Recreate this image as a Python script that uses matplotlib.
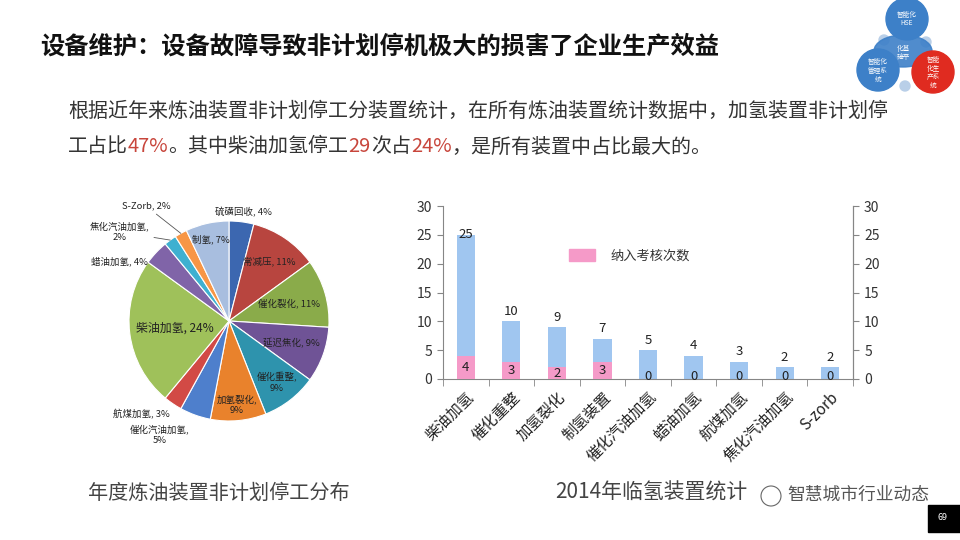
"""Slide: equipment shutdown statistics (pie + bar) recreated with matplotlib."""

import numpy as np
import matplotlib

matplotlib.use("Agg")
import matplotlib.pyplot as plt
from matplotlib.patches import Circle, Ellipse, Rectangle, Patch

plt.rcParams["font.family"] = ["Noto Sans CJK SC", "DejaVu Sans"]

# pie: share of unplanned shutdowns per unit (clockwise from 12 o'clock)
PIE_LABELS = ["硫磺回收", "常减压", "催化裂化", "延迟焦化", "催化重整", "加氢裂化",
              "催化汽油加氢", "航煤加氢", "柴油加氢", "蜡油加氢", "焦化汽油加氢",
              "S-Zorb", "制氢"]
PIE_SHARES = [4, 11, 11, 9, 9, 9, 5, 3, 24, 4, 2, 2, 7]
PIE_COLORS = ["#3c67b0", "#b8453f", "#8aab4a", "#6f5396", "#2e93ad", "#e9822c",
              "#4e7fcc", "#d24a45", "#9fc15a", "#8064a8", "#3fb0d0", "#f79646",
              "#a8bedf"]

# bar: 2014 hydro units, total stops and stops counted in assessment
BAR_UNITS = ["柴油加氢", "催化重整", "加氢裂化", "制氢装置", "催化汽油加氢",
             "蜡油加氢", "航煤加氢", "焦化汽油加氢", "S-zorb"]
BAR_STOPS = [25, 10, 9, 7, 5, 4, 3, 2, 2]
BAR_ASSESSED = [4, 3, 2, 3, 0, 0, 0, 0, 0]
BAR_TICKS = [0, 5, 10, 15, 20, 25, 30]

TITLE = "设备维护：设备故障导致非计划停机极大的损害了企业生产效益"
BODY_1 = "根据近年来炼油装置非计划停工分装置统计，在所有炼油装置统计数据中，加氢装置非计划停"
BODY_2 = [("工占比", False), ("47%", True), ("。其中柴油加氢停工", False), ("29", True),
          ("次占", False), ("24%", True), ("，是所有装置中占比最大的。", False)]

W, H = 960, 540
RED = "#c8463c"
TEXT = "#333333"

# label placement: ("in", radius, size) or ("out", x, y, lead line)
PIE_LABEL_POS = [("out", 0.14, 1.09, False), ("in", 0.72, 6.8), ("in", 0.63, 6.8),
                 ("in", 0.66, 6.8), ("in", 0.78, 6.8), ("in", 0.84, 6.8),
                 ("out", -0.69, -1.14, False), ("out", -0.88, -0.93, False),
                 ("in", 0.55, 8.6), ("out", -1.10, 0.60, False),
                 ("out", -1.09, 0.89, True), ("out", -0.83, 1.15, True),
                 ("in", 0.84, 6.8)]
PIE_TWO_LINE = {"催化重整", "加氢裂化", "催化汽油加氢", "焦化汽油加氢"}


def px(x, y, w=0, h=0):
    """pixel box (top-left origin) -> figure fraction rect"""
    return [x / W, 1 - (y + h) / H, w / W, h / H]


def draw_pie(fig):
    ax = fig.add_axes(px(129, 221, 200, 200))
    wedges, _ = ax.pie(PIE_SHARES, colors=PIE_COLORS, startangle=90, counterclock=False,
                       wedgeprops=dict(edgecolor="white", linewidth=0.8))
    ax.set_xlim(-1, 1)
    ax.set_ylim(-1, 1)
    for w, name, share, pos in zip(wedges, PIE_LABELS, PIE_SHARES, PIE_LABEL_POS):
        sep = ",\n" if name in PIE_TWO_LINE else ", "
        label = f"{name}{sep}{share}%"
        ang = np.deg2rad((w.theta1 + w.theta2) / 2)
        if pos[0] == "in":
            _, r, size = pos
            ax.text(r * np.cos(ang), r * np.sin(ang), label, ha="center", va="center",
                    fontsize=size, color="#222222", linespacing=1.3)
        else:
            _, tx, ty, lead = pos
            if lead:
                ax.annotate(label, xy=(np.cos(ang), np.sin(ang)), xytext=(tx, ty),
                            ha="center", va="center", fontsize=6.8, color="#222222",
                            linespacing=1.3, annotation_clip=False,
                            arrowprops=dict(arrowstyle="-", color="#555555", lw=0.6,
                                            shrinkA=1, shrinkB=0))
            else:
                ax.text(tx, ty, label, ha="center", va="center", fontsize=6.8,
                        color="#222222", linespacing=1.3)


def draw_bars(fig):
    ax = fig.add_axes(px(443, 206, 410, 173))
    x = np.arange(len(BAR_UNITS))
    ax.bar(x, BAR_STOPS, width=0.4, color="#a0c6f0", zorder=2)
    ax.bar(x, BAR_ASSESSED, width=0.4, color="#f59ac8", zorder=3)
    for xi, v in zip(x, BAR_STOPS):
        ax.text(xi, min(v + 0.6, 24.0), str(v), ha="center", va="bottom", fontsize=9.5,
                color="#222222", zorder=4)
    for xi, v in zip(x, BAR_ASSESSED):
        ax.text(xi, max(v / 2, 0.5), str(v), ha="center", va="center", fontsize=9.5,
                color="#222222", zorder=4)

    ax.set_xlim(-0.5, len(BAR_UNITS) - 0.5)
    ax.set_ylim(0, 30)
    ax.set_yticks(BAR_TICKS)
    ax.set_xticks(x)
    ax.set_xticklabels(BAR_UNITS, rotation=45, ha="right", va="top",
                       rotation_mode="anchor", fontsize=11, color="#222222")
    ax.set_xticks(np.arange(-0.5, len(BAR_UNITS), 1), minor=True)
    ax.tick_params(axis="x", which="major", length=0, pad=7)
    ax.tick_params(axis="x", which="minor", length=5, color="#868686")
    ax.tick_params(axis="y", length=4, color="#868686", labelsize=10,
                   labelcolor="#333333", pad=4)
    ax.spines["top"].set_visible(False)
    for side in ("left", "bottom", "right"):
        ax.spines[side].set_color("#868686")

    ax2 = ax.twinx()
    ax2.set_ylim(0, 30)
    ax2.set_yticks(BAR_TICKS)
    ax2.tick_params(axis="y", length=4, color="#868686", labelsize=10,
                    labelcolor="#333333", pad=4)
    for side in ("top", "left", "bottom"):
        ax2.spines[side].set_visible(False)
    ax2.spines["right"].set_color("#868686")

    ax.legend(handles=[Patch(color="#f59ac8", label="纳入考核次数")], loc="center",
              bbox_to_anchor=(0.455, 0.71), frameon=False, fontsize=9.5,
              handlelength=2.0, handleheight=1.0, handletextpad=1.2,
              labelcolor="#333333")


def draw_rich_line(fig, x0, y, parts, size):
    renderer = fig.canvas.get_renderer()
    x = x0
    for s, hot in parts:
        t = fig.text(x / W, 1 - y / H, s, fontsize=size, va="center", ha="left",
                     color=RED if hot else TEXT)
        x += t.get_window_extent(renderer).width


def draw_logo(ov):
    blue = "#3d80c8"
    arrow = "#b9cfe8"
    ov.add_patch(Circle((884, 40), 5, color=arrow))
    ov.add_patch(Circle((926, 42), 5, color=arrow))
    ov.add_patch(Circle((905, 86), 5, color=arrow))
    ov.add_patch(Ellipse((903, 51), 58, 32, color=blue, alpha=0.9))
    ov.add_patch(Circle((907, 19), 21, color=blue))
    ov.add_patch(Circle((878, 70), 21, color=blue))
    ov.add_patch(Circle((933, 72), 21, color="#e02b20"))
    ov.text(907, 19, "智能化\nHSE", ha="center", va="center", fontsize=4.8,
            color="white", linespacing=1.1)
    ov.text(903, 53, "化基\n础平", ha="center", va="center", fontsize=4.8,
            color="white", linespacing=1.1)
    ov.text(878, 71, "智能化\n管理系\n统", ha="center", va="center", fontsize=4.8,
            color="white", linespacing=1.1)
    ov.text(933, 73, "智能\n化生\n产系\n统", ha="center", va="center", fontsize=4.8,
            color="white", linespacing=1.1)


def main():
    fig = plt.figure(figsize=(W / 100, H / 100), dpi=100)
    fig.patch.set_facecolor("white")

    ov = fig.add_axes([0, 0, 1, 1])
    ov.set_xlim(0, W)
    ov.set_ylim(H, 0)
    ov.axis("off")

    fig.text(40 / W, 1 - 47 / H, TITLE, fontsize=17.5, weight="heavy", color="#111111",
             va="center")
    fig.text(68 / W, 1 - 111 / H, BODY_1, fontsize=14.4, color=TEXT, va="center")
    draw_rich_line(fig, 68, 147, BODY_2, 14.4)

    draw_pie(fig)
    draw_bars(fig)

    fig.text(88 / W, 1 - 493 / H, "年度炼油装置非计划停工分布", fontsize=14.5,
             color="#444444", va="center")
    fig.text(555 / W, 1 - 493 / H, "2014年临氢装置统计", fontsize=15,
             color="#444444", va="center")
    # watermark over the caption
    ov.add_patch(Rectangle((762, 480), 170, 30, color="white", alpha=0.75))
    ov.add_patch(Circle((771, 496), 10, facecolor="white", edgecolor="#666666", lw=0.8))
    fig.text(787 / W, 1 - 495 / H, "智慧城市行业动态", fontsize=12.8, color="#555555",
             va="center")

    ov.add_patch(Rectangle((928, 505), 32, 27, color="black"))
    ov.text(943, 518, "69", ha="center", va="center", fontsize=6.5, color="white")

    draw_logo(ov)

    fig.savefig("out.png", dpi=100)
    plt.close(fig)


if __name__ == "__main__":
    main()
